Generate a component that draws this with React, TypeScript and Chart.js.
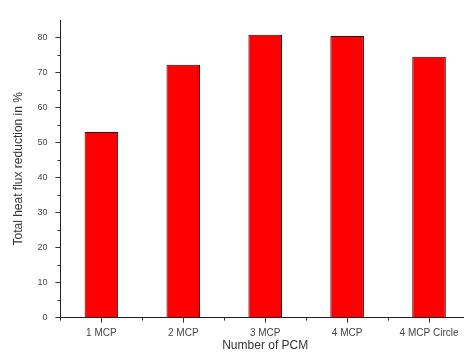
import React, { useEffect, useRef } from "react";
import { Chart, registerables } from "chart.js";

Chart.register(...registerables);

const categories = ["1 MCP", "2 MCP", "3 MCP", "4 MCP", "4 MCP Circle"];
const reduction = [53, 72.2, 80.8, 80.4, 74.5];
const yMax = 85;
const yStep = 10;
const yMinorStep = 5;

const minorTicks = {
  id: "minorTicks",
  afterDraw(chart: any) {
    const ctx = chart.ctx;
    const y = chart.scales.y;
    const x = chart.scales.x;
    ctx.save();
    ctx.strokeStyle = "#333";
    ctx.lineWidth = 1;
    for (let v = yMinorStep; v < yMax; v += yStep) {
      const py = Math.round(y.getPixelForValue(v)) + 0.5;
      ctx.beginPath();
      ctx.moveTo(y.right - 3, py);
      ctx.lineTo(y.right, py);
      ctx.stroke();
    }
    for (let i = 0; i < categories.length; i++) {
      const px = Math.round(x.getPixelForValue(i)) + 0.5;
      ctx.beginPath();
      ctx.moveTo(px, x.top);
      ctx.lineTo(px, x.top + 5);
      ctx.stroke();
    }
    ctx.restore();
  },
};

export default function App() {
  const ref = useRef<HTMLCanvasElement>(null);
  useEffect(() => {
    const chart = new Chart(ref.current!, {
      type: "bar",
      data: {
        labels: categories,
        datasets: [
          {
            data: reduction,
            backgroundColor: "#ff0000",
            borderColor: "#3a0000",
            borderWidth: 1,
            barPercentage: 0.82,
            categoryPercentage: 0.5,
          },
        ],
      },
      options: {
        animation: false,
        responsive: false,
        maintainAspectRatio: false,
        layout: { padding: { left: 11, top: 20, right: 0, bottom: 7 } },
        plugins: { legend: { display: false }, tooltip: { enabled: false } },
        scales: {
          x: {
            grid: { drawOnChartArea: false, drawTicks: true, tickLength: 3, color: "#333" },
            border: { color: "#222", width: 1 },
            ticks: { color: "#444", font: { family: "Liberation Sans", size: 10 }, padding: 7, maxRotation: 0 },
            title: {
              display: true,
              text: "Number of PCM",
              color: "#333",
              font: { family: "Liberation Sans", size: 12 },
              padding: { top: -8, bottom: 0 },
            },
          },
          y: {
            min: 0,
            max: yMax,
            afterBuildTicks: (s: any) => {
              s.ticks = s.ticks.filter((t: any) => t.value % yStep === 0);
            },
            grid: { drawOnChartArea: false, drawTicks: true, tickLength: 5, color: "#333" },
            border: { color: "#222", width: 1 },
            ticks: { stepSize: yStep, color: "#444", font: { family: "Liberation Sans", size: 9 }, padding: 8 },
            title: {
              display: true,
              text: "Total heat flux reduction in %",
              color: "#333",
              font: { family: "Liberation Sans", size: 12 },
              padding: { top: 0, bottom: 4 },
            },
          },
        },
      },
      plugins: [minorTicks],
    });
    return () => chart.destroy();
  }, []);
  return (
    <div style={{ position: "fixed", left: 0, top: 0, width: 464, height: 360, overflow: "hidden", background: "#fff" }}>
      <canvas ref={ref} width={470} height={360} style={{ display: "block" }} />
    </div>
  );
}
